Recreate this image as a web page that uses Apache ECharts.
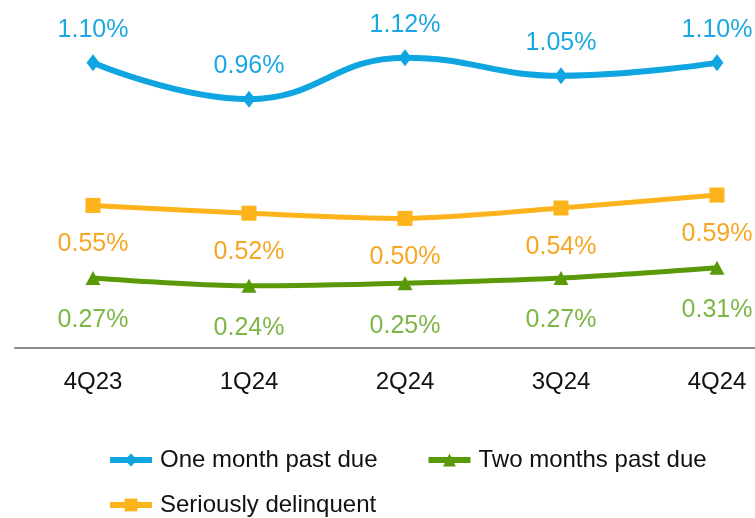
<!DOCTYPE html>
<html>
<head>
<meta charset="utf-8">
<script src="https://cdn.jsdelivr.net/npm/echarts@6/dist/echarts.min.js"></script>
<style>
  html, body { margin: 0; padding: 0; background: #fff; }
  #chart { width: 755px; height: 518px; }
</style>
</head>
<body>
<div id="chart"></div>
<script>
var quarters = ['4Q23', '1Q24', '2Q24', '3Q24', '4Q24'];
var one_month = [1.10, 0.96, 1.12, 1.05, 1.10];
var two_months = [0.27, 0.24, 0.25, 0.27, 0.31];
var seriously = [0.55, 0.52, 0.50, 0.54, 0.59];

var FONT = 'Liberation Sans, Arial, sans-serif';

function pct(p) {
    return p.value.toFixed(2) + '%';
}

var chart = document.getElementById('chart');
var myChart = echarts.init(chart);

var legendText = { fontSize: 24, color: '#111', fontFamily: FONT, padding: [0, 0, 0, 3] };

option = {
    animation: false,
    textStyle: { fontFamily: FONT },
    grid: { left: 15, top: 11, width: 780, height: 337, outerBoundsMode: 'none', containLabel: false },
    legend: [
        {
            data: ['One month past due', 'Two months past due'],
            left: 102, top: 443,
            itemWidth: 42, itemHeight: 16, itemGap: 48,
            lineStyle: { width: 6 },
            textStyle: legendText
        },
        {
            data: ['Seriously delinquent'],
            left: 102, top: 488,
            itemWidth: 42, itemHeight: 16,
            lineStyle: { width: 6 },
            textStyle: legendText
        }
    ],
    xAxis: {
        type: 'category',
        boundaryGap: true,
        data: quarters,
        axisLine: { lineStyle: { color: '#8c8c8c', width: 2 } },
        axisTick: { show: false },
        axisLabel: { fontSize: 24, color: '#111', margin: 22, fontFamily: FONT }
    },
    yAxis: {
        type: 'value',
        min: 0,
        max: 1.3,
        show: false,
        splitLine: { show: false }
    },
    series: [
        {
            name: 'One month past due',
            type: 'line',
            data: one_month,
            smooth: 0.45,
            symbol: 'diamond',
            symbolSize: [13, 17],
            itemStyle: { color: '#0FA5E0' },
            lineStyle: { color: '#0FA5E0', width: 6 },
            label: { show: true, position: 'top', distance: 12, fontSize: 25, color: '#1BA8E2', formatter: pct, fontFamily: FONT }
        },
        {
            name: 'Two months past due',
            type: 'line',
            data: two_months,
            smooth: 0.3,
            symbol: 'triangle',
            symbolSize: [15, 14],
            itemStyle: { color: '#5A9A08' },
            lineStyle: { color: '#5A9A08', width: 5 },
            label: { show: true, position: 'bottom', distance: 23, fontSize: 25, color: '#7DB646', formatter: pct, fontFamily: FONT }
        },
        {
            name: 'Seriously delinquent',
            type: 'line',
            data: seriously,
            smooth: 0.3,
            symbol: 'rect',
            symbolSize: 15,
            itemStyle: { color: '#FDB31B' },
            lineStyle: { color: '#FDB31B', width: 5 },
            label: { show: true, position: 'bottom', distance: 19, fontSize: 25, color: '#F6A623', formatter: pct, fontFamily: FONT }
        }
    ]
};

myChart.setOption(option);
</script>
</body>
</html>
